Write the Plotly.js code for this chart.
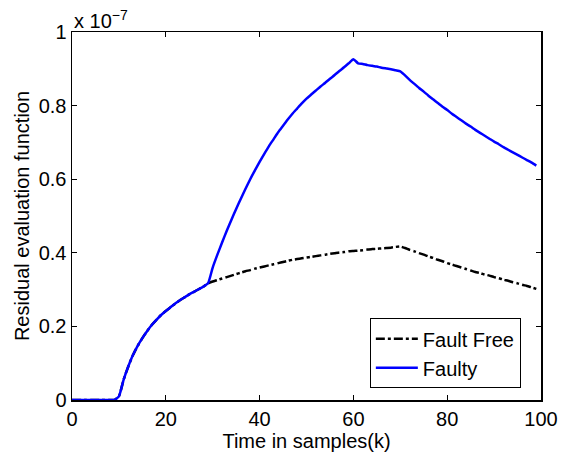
<!DOCTYPE html>
<html>
<head>
<meta charset="utf-8">
<script src="https://cdn.plot.ly/plotly-3.0.1.min.js"></script>
<style>html,body{margin:0;padding:0;background:#fff;}#chart{width:566px;height:452px;}</style>
</head>
<body>
<div id="chart"></div>
<script>
// Time samples k
var k = [];
for (var i = 0; i <= 99; i++) k.push(i);

// Values in units of 1e-7
var faultFree = [
  0,0,0,0,0,0,0,0,0,0,
  0.010,0.055,0.091,0.122,0.147,0.168,0.187,0.204,0.218,0.231,
  0.242,0.252,0.262,0.271,0.279,0.287,0.294,0.301,0.308,0.317,
  0.322,0.326,0.330,0.334,0.338,0.342,0.346,0.350,0.353,0.357,
  0.360,0.363,0.366,0.369,0.372,0.375,0.378,0.381,0.383,0.385,
  0.387,0.389,0.391,0.393,0.395,0.397,0.399,0.401,0.402,0.404,
  0.405,0.406,0.407,0.409,0.410,0.411,0.412,0.413,0.414,0.416,
  0.417,0.413,0.408,0.404,0.399,0.395,0.390,0.386,0.381,0.377,
  0.372,0.368,0.364,0.360,0.356,0.352,0.348,0.345,0.341,0.338,
  0.334,0.331,0.327,0.324,0.320,0.317,0.313,0.310,0.306,0.302
];

var faulty = [
  0,0,0,0,0,0,0,0,0,0,
  0.010,0.055,0.091,0.122,0.147,0.168,0.187,0.204,0.218,0.231,
  0.242,0.252,0.262,0.271,0.279,0.287,0.294,0.301,0.308,0.317,
  0.360,0.395,0.428,0.460,0.490,0.519,0.547,0.574,0.600,0.624,
  0.647,0.669,0.690,0.709,0.728,0.745,0.762,0.778,0.792,0.806,
  0.819,0.830,0.841,0.852,0.862,0.873,0.883,0.894,0.904,0.915,
  0.926,0.915,0.913,0.910,0.908,0.906,0.903,0.901,0.899,0.896,
  0.893,0.882,0.870,0.859,0.848,0.838,0.827,0.817,0.807,0.797,
  0.788,0.778,0.769,0.760,0.751,0.743,0.734,0.726,0.718,0.710,
  0.702,0.695,0.687,0.680,0.673,0.666,0.659,0.652,0.645,0.637
];

var xTicks = [0, 20, 40, 60, 80, 100];
var yTicks = [0, 0.2, 0.4, 0.6, 0.8, 1];
var yTickText = ['0', '0.2', '0.4', '0.6', '0.8', '1'];

var font = {family: 'Liberation Sans, Arial, sans-serif', size: 20, color: '#000'};

var data = [
  {x: k, y: faultFree, type: 'scatter', mode: 'lines', name: 'Fault Free',
   line: {color: '#000000', width: 2.5, dash: 'dashdot', shape: 'spline', smoothing: 0.5}},
  {x: k, y: faulty, type: 'scatter', mode: 'lines', name: 'Faulty',
   line: {color: '#0000ff', width: 2.5, shape: 'spline', smoothing: 0.5}}
];

var axisCommon = {
  showgrid: false, zeroline: false, showline: true, linecolor: '#000', linewidth: 1.5,
  mirror: 'ticks', ticks: 'inside', ticklen: 5, tickwidth: 1, tickcolor: '#000',
  tickfont: font
};

var layout = {
  width: 566, height: 452,
  margin: {l: 72, r: 25, t: 32, b: 52},
  paper_bgcolor: '#fff', plot_bgcolor: '#fff',
  font: font,
  showlegend: true,
  legend: {x: 0.957, y: 0.222, xanchor: 'right', yanchor: 'top',
           bgcolor: '#fff', bordercolor: '#000', borderwidth: 1,
           font: font, tracegroupgap: 0, itemwidth: 42},
  xaxis: Object.assign({}, axisCommon, {
    range: [0, 100], tickvals: xTicks, ticktext: xTicks.map(String),
    title: {text: 'Time in samples(k)', font: font, standoff: 0}
  }),
  yaxis: Object.assign({}, axisCommon, {
    range: [0, 1], tickvals: yTicks, ticktext: yTickText,
    title: {text: 'Residual evaluation function', font: font, standoff: 3}
  }),
  annotations: [{
    xref: 'paper', yref: 'paper', x: 0, y: 1, xanchor: 'left', yanchor: 'bottom',
    text: 'x 10<sup>−7</sup>', showarrow: false, font: font, yshift: -2
  }]
};

Plotly.newPlot('chart', data, layout, {displayModeBar: false, staticPlot: true});
</script>
</body>
</html>
